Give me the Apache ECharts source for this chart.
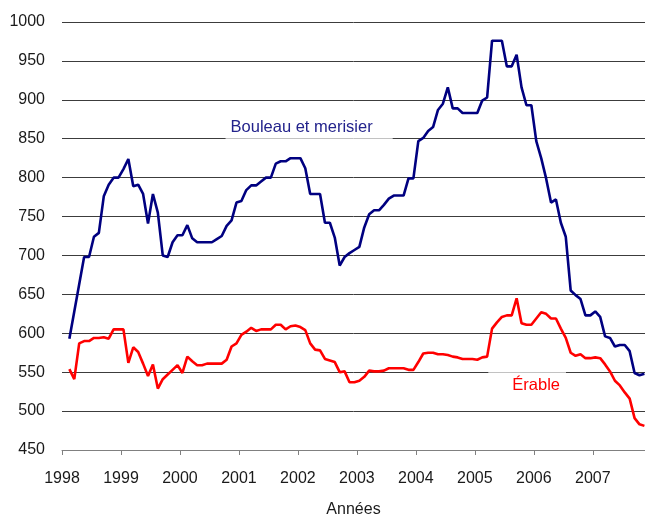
<!DOCTYPE html>
<html>
<head>
<meta charset="utf-8">
<script src="https://cdn.jsdelivr.net/npm/echarts@6/dist/echarts.min.js"></script>
<style>
  html, body { margin: 0; padding: 0; background: #fff; }
  #chart { width: 645px; height: 523px; }
</style>
</head>
<body>
<div id="chart"></div>
<script>
// Monthly price series, February 1998 to November 2007
const firstYear = 1998;
const firstMonth = 2;
const monthCount = 118;
const months = [];
for (let k = 0; k < monthCount; k++) {
  const m0 = firstMonth - 1 + k;
  const y = firstYear + Math.floor(m0 / 12);
  const m = (m0 % 12) + 1;
  months.push(y + '-' + String(m).padStart(2, '0'));
}

const bouleauMerisier = [
  593, 628, 663, 698, 698, 724, 729, 776, 791, 800, 800,
  811, 824, 789, 791, 779, 741, 779, 755, 700, 698, 717, 726,
  726, 739, 722, 717, 717, 717, 717, 721, 725, 738, 745, 768,
  770, 784, 790, 790, 795, 800, 800, 818, 821, 821, 825, 825,
  825, 812, 779, 779, 779, 742, 742, 723, 687, 698, 703, 707,
  711, 736, 753, 758, 758, 765, 773, 777, 777, 777, 799, 799,
  847, 851, 860, 865, 887, 895, 916, 889, 889, 883, 883, 883,
  883, 899, 903, 976, 976, 976, 943, 943, 958, 916, 893, 893,
  847, 825, 799, 768, 772, 742, 724, 655, 649, 644, 623, 623,
  628, 621, 596, 594, 583, 585, 585, 577, 549, 546, 548
];

const erable = [
  554, 541, 587, 590, 590, 594, 594, 595, 593, 605, 605,
  605, 562, 582, 576, 561, 545, 560, 529, 541, 547, 553, 559,
  549, 570, 564, 559, 559, 561, 561, 561, 561, 566, 583, 587,
  598, 602, 607, 603, 605, 605, 605, 611, 611, 605, 609, 610,
  608, 604, 587, 579, 578, 567, 565, 563, 550, 551, 537, 537,
  539, 544, 552, 551, 551, 552, 555, 555, 555, 555, 553, 553,
  563, 574, 575, 575, 573, 573, 572, 570, 569, 567, 567, 567,
  566, 569, 570, 606, 614, 621, 623, 623, 645, 613, 611, 611,
  619, 627, 625, 619, 619, 606, 594, 575, 571, 573, 568, 568,
  569, 568, 560, 551, 539, 533, 524, 516, 491, 483, 481
];

const yearLabels = ['1998', '1999', '2000', '2001', '2002', '2003', '2004', '2005', '2006', '2007'];

// Each month is placed at its middle on a continuous year scale
function monthToYear(s) {
  const [y, m] = s.split('-').map(Number);
  return y + (m - 0.5) / 12;
}
const pairs = (values) => values.map((v, i) => [monthToYear(months[i]), v]);

const FONT = "'Liberation Sans', Arial, sans-serif";

const chart = echarts.init(document.getElementById('chart'), null, { renderer: 'canvas' });
chart.setOption({
  animation: false,
  backgroundColor: '#ffffff',
  grid: { left: 62, right: 0, top: 22, bottom: 68, containLabel: false },
  xAxis: {
    type: 'value',
    min: 1998,
    max: 2007.885,
    interval: 1,
    name: 'Années',
    nameLocation: 'middle',
    nameGap: 52,
    nameTextStyle: { fontFamily: FONT, fontSize: 16, color: '#1a1a1a' },
    axisLine: { show: true, onZero: false, lineStyle: { color: '#808080', width: 1 } },
    axisTick: { show: true, length: 5, inside: false, lineStyle: { color: '#808080' } },
    axisLabel: {
      margin: 21,
      fontFamily: FONT,
      fontSize: 16,
      color: '#1a1a1a',
      showMaxLabel: false,
      formatter: (v) => (yearLabels.indexOf(String(v)) >= 0 ? String(v) : '')
    },
    splitLine: { show: false }
  },
  yAxis: {
    type: 'value',
    min: 450,
    max: 1000,
    interval: 50,
    axisLine: { show: false },
    axisTick: { show: false },
    axisLabel: {
      margin: 17,
      fontFamily: FONT,
      fontSize: 16,
      color: '#1a1a1a',
      formatter: (v) => String(v)
    },
    splitLine: { show: true, lineStyle: { color: '#3c3c3c', width: 1 } }
  },
  series: [
    {
      name: 'Bouleau et merisier',
      type: 'line',
      data: pairs(bouleauMerisier),
      symbol: 'none',
      lineStyle: { color: '#000080', width: 2.6 },
      z: 3,
      markPoint: {
        silent: true,
        symbol: 'rect',
        symbolSize: 1,
        itemStyle: { color: 'rgba(0,0,0,0)' },
        label: {
          show: true,
          position: 'inside',
          formatter: 'Bouleau et merisier',
          fontFamily: FONT,
          fontSize: 16.5,
          color: '#23238c',
          backgroundColor: 'rgba(255,255,255,0.92)',
          padding: [4, 20, 2, 5]
        },
        data: [{ coord: [2002.19, 864.8] }]
      }
    },
    {
      name: 'Érable',
      type: 'line',
      data: pairs(erable),
      symbol: 'none',
      lineStyle: { color: '#ff0000', width: 2.6 },
      z: 3,
      markPoint: {
        silent: true,
        symbol: 'rect',
        symbolSize: 1,
        itemStyle: { color: 'rgba(0,0,0,0)' },
        label: {
          show: true,
          position: 'inside',
          formatter: 'Érable',
          fontFamily: FONT,
          fontSize: 16.5,
          color: '#ff0000',
          backgroundColor: 'rgba(255,255,255,0.92)',
          padding: [5, 6, 4, 24]
        },
        data: [{ coord: [2005.887, 533.2] }]
      }
    }
  ]
});
</script>
</body>
</html>
